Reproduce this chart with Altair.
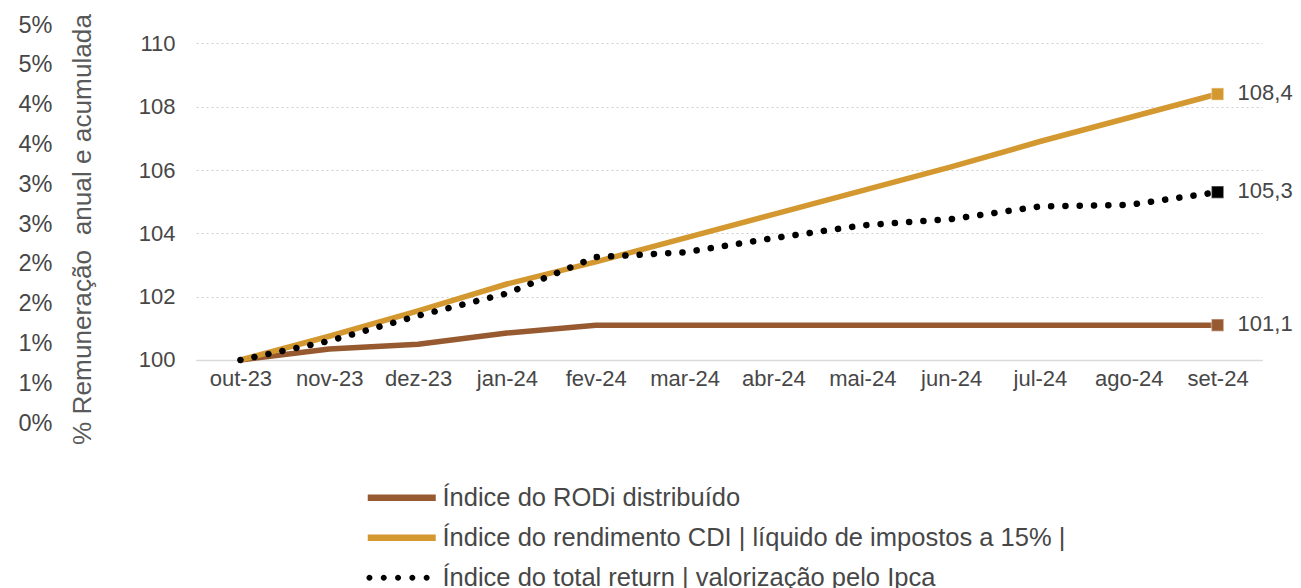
import altair as alt
import pandas as pd

months = ["out-23", "nov-23", "dez-23", "jan-24", "fev-24", "mar-24",
          "abr-24", "mai-24", "jun-24", "jul-24", "ago-24", "set-24"]
rodi = [100.0, 100.35, 100.5, 100.85, 101.1, 101.1, 101.1, 101.1, 101.1, 101.1, 101.1, 101.1]
cdi = [100.0, 100.75, 101.55, 102.4, 103.1, 103.85, 104.6, 105.35, 106.1, 106.9, 107.65, 108.4]
total_return = [100.0, 100.6, 101.4, 102.1, 103.25, 103.4, 103.85, 104.25, 104.45, 104.85, 104.9, 105.3]

series_names = ["Índice do RODi distribuído",
                "Índice do rendimento CDI | líquido de impostos a 15% |",
                "Índice do total return | valorização pelo Ipca"]
series_colors = ["#975A30", "#D49830", "#000000"]
y_ticks = [100, 102, 104, 106, 108, 110]
pct_tick_labels = ["0%", "1%", "1%", "2%", "2%", "3%", "3%", "4%", "4%", "5%", "5%"]
axis_title = "% Remuneração\u00a0 anual e acumulada"

FONT = "Liberation Sans"
TXT = "#474747"

rows = []
for name, vals in zip(series_names, [rodi, cdi, total_return]):
    for m, v in zip(months, vals):
        rows.append({"mes": m, "serie": name, "valor": v})
df = pd.DataFrame(rows)
last = df[df["mes"] == months[-1]].copy()
last["rotulo"] = last["valor"].map(lambda v: f"{v:.1f}".replace(".", ","))

pct_df = pd.DataFrame({"idx": list(range(len(pct_tick_labels))), "lab": pct_tick_labels})

# legend symbols: custom paths (1 unit = half of sqrt(symbolSize) = 10 px)
bar_path = "M-3.4,-0.33 L3.4,-0.33 L3.4,0.33 L-3.4,0.33 Z"
dots_path = "".join(
    f"M{c-0.3:.2f},0 A0.3,0.3 0 1,0 {c+0.3:.2f},0 A0.3,0.3 0 1,0 {c-0.3:.2f},0 Z "
    for c in [-3.23, -1.80, -0.37, 1.06, 2.49]
)
legend_shapes = [bar_path, bar_path, dots_path]

x_enc = alt.X("mes:N", sort=months,
              scale=alt.Scale(type="point", padding=0.5, domain=months),
              axis=alt.Axis(title=None, orient="bottom", offset=-63, labelAngle=0,
                            labelFont=FONT, labelFontSize=22, labelColor=TXT,
                            labelPadding=8, ticks=False, domainColor="#d9d9d9",
                            domainWidth=1.5, grid=False))

y_scale = alt.Scale(domain=[98.01, 110.58], nice=False, zero=False)
y_main = alt.Y("valor:Q", scale=y_scale,
               axis=alt.Axis(values=y_ticks, title=axis_title, titleFont=FONT,
                             titleFontSize=26.2, titleFontWeight="normal", titleColor="#595959",
                             titlePadding=42, titleY=204, labelFont=FONT, labelFontSize=22,
                             labelColor=TXT, labelPadding=21, ticks=False, domain=False,
                             grid=True, gridColor="#cfcfcf", gridDash=[2, 3], gridWidth=1))

color_legend = alt.Legend(title=None, orient="none", legendX=193, legendY=460,
                          direction="vertical", labelFont=FONT, labelFontSize=25.5,
                          labelColor=TXT, symbolSize=400, labelOffset=28,
                          rowPadding=13, symbolStrokeWidth=0, labelLimit=1000)
color_enc = alt.Color("serie:N", scale=alt.Scale(domain=series_names, range=series_colors),
                      legend=color_legend)

base = alt.Chart(df)

solid = base.transform_filter(
    alt.FieldOneOfPredicate(field="serie", oneOf=series_names[:2])
).mark_line(strokeWidth=5.5, strokeCap="round").encode(
    x=x_enc, y=y_main, color=color_enc, detail="serie:N",
)

dotted = base.transform_filter(
    alt.datum.serie == series_names[2]
).mark_line(strokeWidth=6.5, strokeCap="round", strokeDash=[0.1, 14.2]).encode(
    x=x_enc, y=y_main, color=color_enc,
)

markers = alt.Chart(last).mark_point(shape="square", size=150, filled=True, opacity=1,
                                      stroke="#ffffff", strokeWidth=1.5, strokeOpacity=0.35).encode(
    x=x_enc, y=y_main, color=color_enc,
)

labels = alt.Chart(last).mark_text(align="left", baseline="middle", dx=20, dy=-1,
                                   font=FONT, fontSize=22, color=TXT).encode(
    x=x_enc, y=y_main, text="rotulo:N",
)

legend_layer = base.transform_filter("false").mark_point(filled=True, opacity=1, strokeWidth=0).encode(
    x=x_enc, y=y_main, color=color_enc,
    shape=alt.Shape("serie:N", scale=alt.Scale(domain=series_names, range=legend_shapes),
                    legend=color_legend),
)

main = alt.layer(legend_layer, solid, dotted, markers, labels)

pct = alt.Chart(pct_df).mark_point(opacity=0).encode(
    x=alt.X("idx:Q", axis=None),
    y=alt.Y("idx:Q", scale=alt.Scale(domain=[0, 10], nice=False, zero=False),
            axis=alt.Axis(orient="left", values=list(range(11)), title=None,
                          labelExpr="[" + ",".join(f"'{s}'" for s in pct_tick_labels) + "][datum.value]",
                          offset=144, labelPadding=0, tickSize=0, ticks=False, domain=False,
                          grid=False, labelFont=FONT, labelFontSize=23.5, labelColor=TXT)),
)

chart = alt.layer(main, pct).resolve_scale(y="independent", x="independent").properties(
    width=1066, height=398,
    padding={"left": 188, "top": 17, "right": 31, "bottom": 176},
    autosize=alt.AutoSizeParams(type="none"),
).configure(background="white").configure_view(strokeWidth=0, stroke="transparent")

chart.save("out.html", embed_options={"renderer": "svg", "actions": False})
